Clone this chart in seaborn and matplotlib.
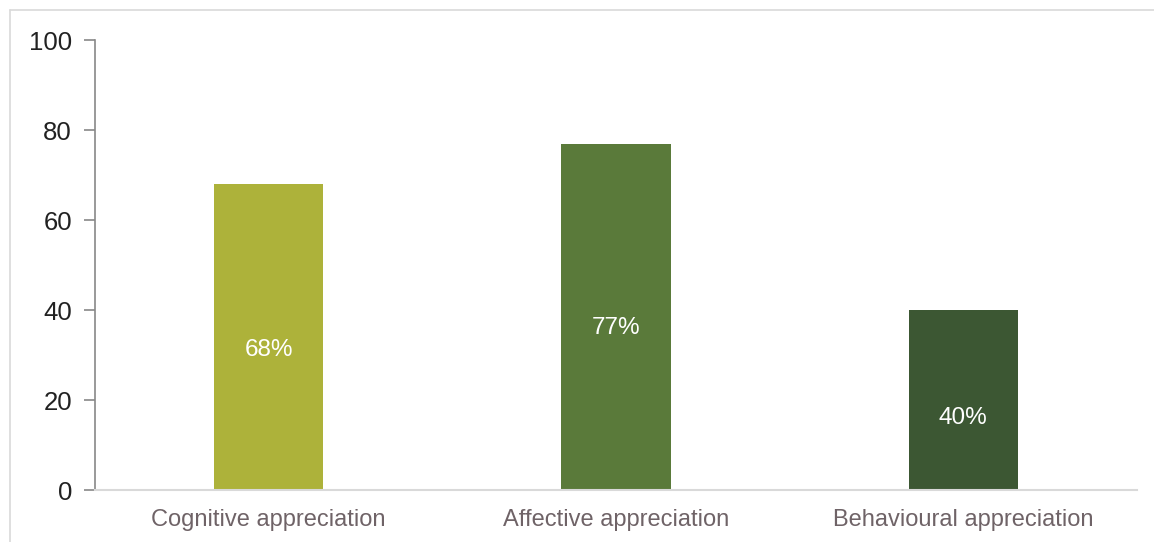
import matplotlib
matplotlib.use("Agg")
import matplotlib.pyplot as plt
import seaborn as sns
import pandas as pd
from matplotlib.lines import Line2D

categories = ["Cognitive appreciation", "Affective appreciation", "Behavioural appreciation"]
values = [68, 77, 40]
labels = ["68%", "77%", "40%"]
colors = ["#adb23a", "#5a7a3a", "#3c5733"]
yticks = [0, 20, 40, 60, 80, 100]

sns.set_theme(style="white")
plt.rcParams["font.family"] = ["Liberation Sans", "DejaVu Sans"]

fig = plt.figure(figsize=(11.54, 5.42), dpi=100)
ax = fig.add_axes([95/1154, 1-490/542, (1137-95)/1154, 450/542])

df = pd.DataFrame({"cat": categories, "val": values})
sns.barplot(data=df, x="cat", y="val", hue="cat", palette=colors, legend=False,
            width=0.315, ax=ax, saturation=1, linewidth=0)

ax.set_xlim(-0.5, 2.5)
ax.set_ylim(0, 100)
ax.set_yticks(yticks)
ax.set_yticklabels([str(t) for t in yticks], fontsize=18.5, color="#222222")
ax.tick_params(axis="y", direction="out", length=8, width=1.2, color="#888888", pad=8.5, left=True)
ax.tick_params(axis="x", length=0, pad=14, labelsize=17, labelcolor="#6f6367")
ax.set_xlabel("")
ax.set_ylabel("")
for s in ["top", "right"]:
    ax.spines[s].set_visible(False)
ax.spines["left"].set_color("#888888")
ax.spines["left"].set_linewidth(1.2)
ax.spines["bottom"].set_color("#d9d9d9")
ax.spines["bottom"].set_linewidth(1.5)

offsets = [-3.0, -2.5, -4.0]
for i, (v, lab) in enumerate(zip(values, labels)):
    ax.text(i, v/2 + offsets[i], lab, ha="center", va="center", color="white", fontsize=17.5)

# figure border (top and left)
fig.add_artist(Line2D([10/1154, 10/1154], [0, 1-10/542], transform=fig.transFigure, color="#d9d9d9", lw=1.2))
fig.add_artist(Line2D([10/1154, 1], [1-10/542, 1-10/542], transform=fig.transFigure, color="#d9d9d9", lw=1.2))

fig.savefig("out.png", dpi=100)
